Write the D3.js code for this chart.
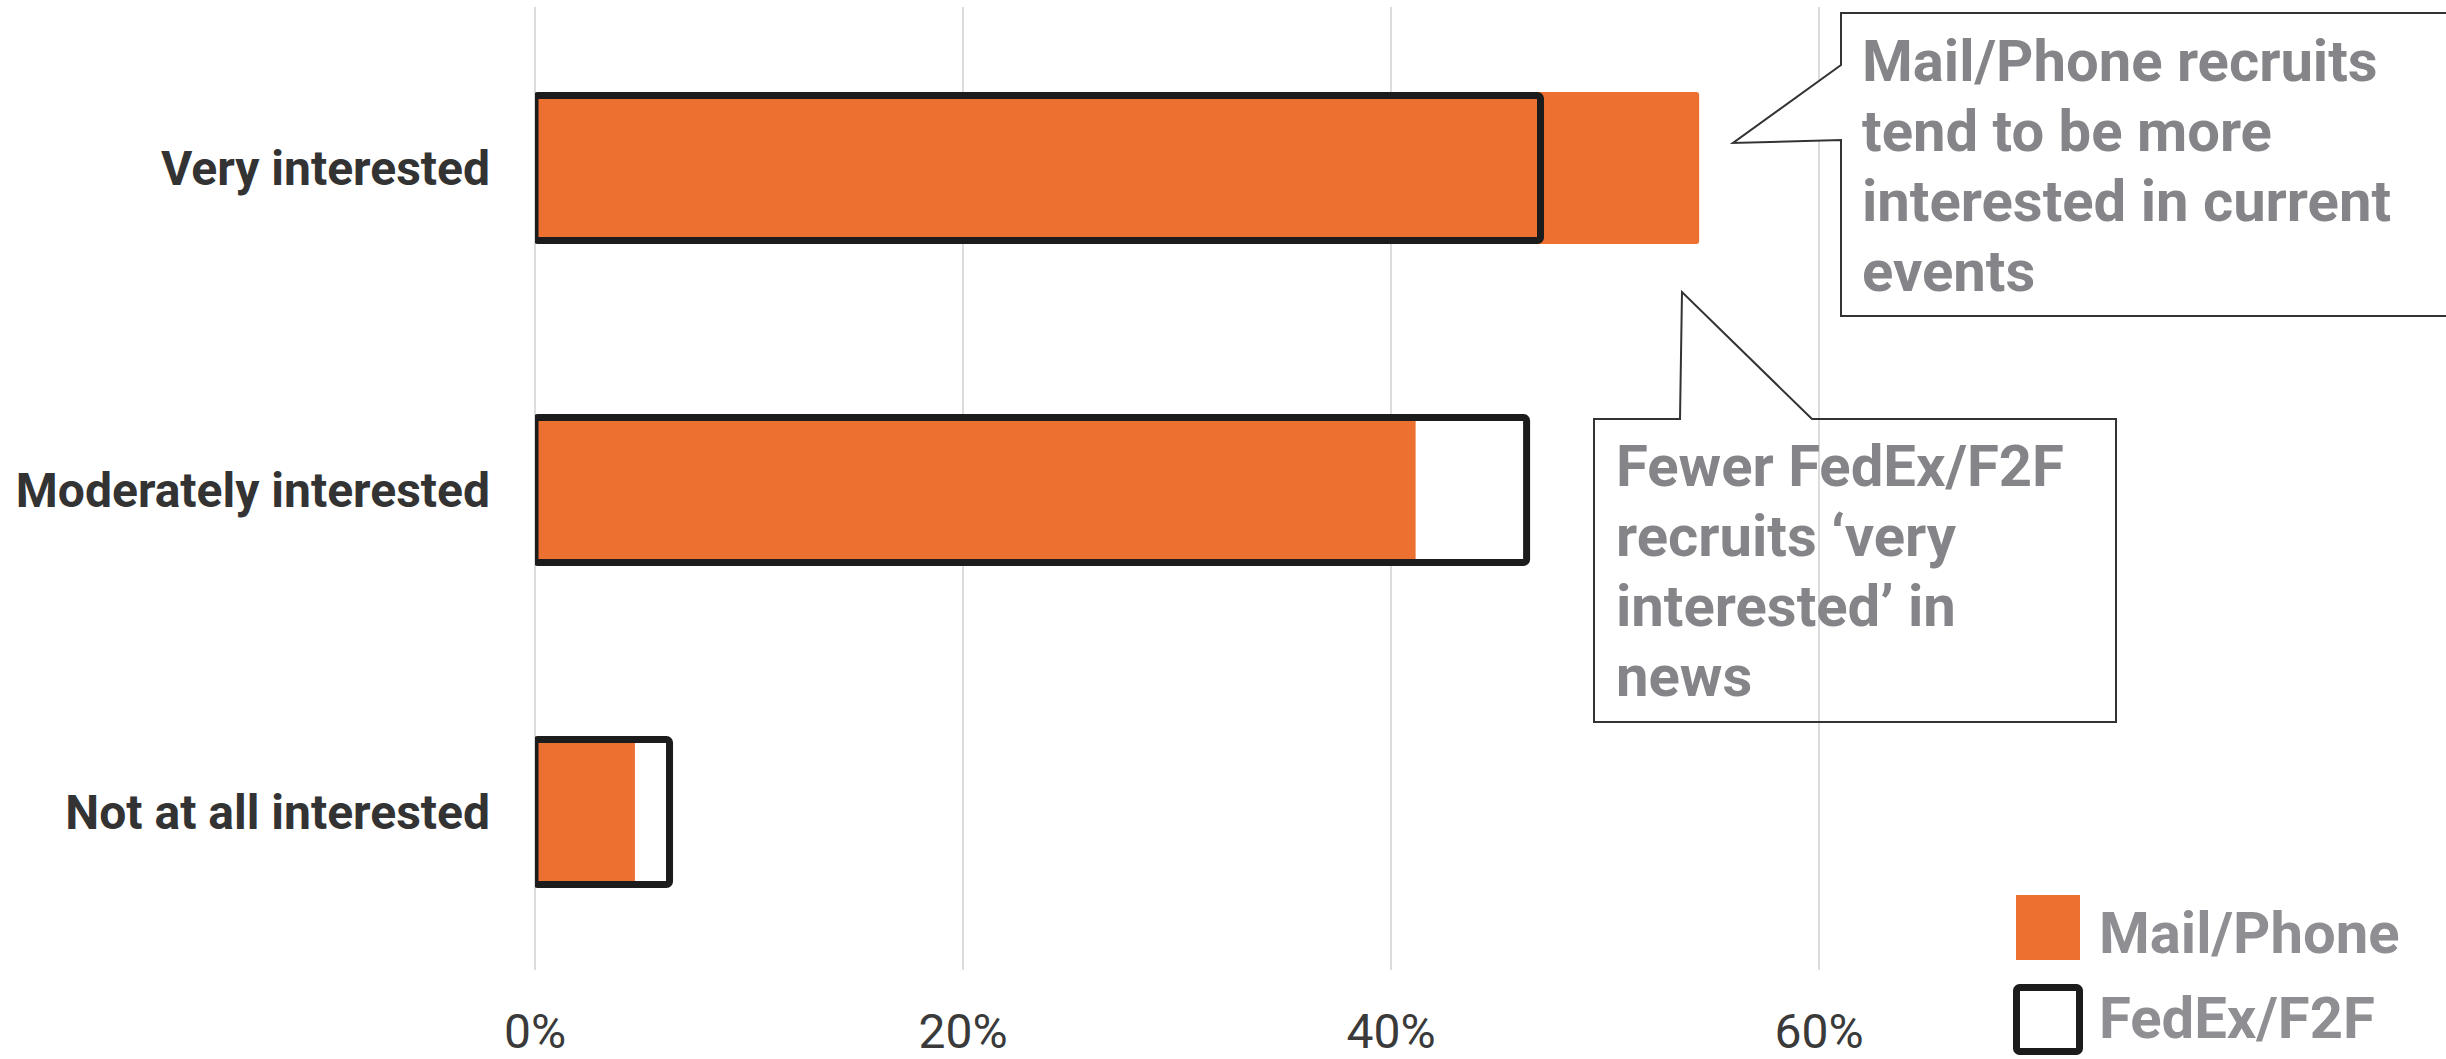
<!DOCTYPE html>
<html>
<head>
<meta charset="utf-8">
<script src="https://cdn.jsdelivr.net/npm/d3@7"></script>
<style>
  html, body { margin: 0; padding: 0; background: #fff; }
  svg { display: block; font-family: Roboto, "Noto Sans", sans-serif; }
</style>
</head>
<body>
<svg id="chart" width="2446" height="1059"></svg>
<script>
// ---- data ----
const categories = ["Very interested", "Moderately interested", "Not at all interested"];
const mailPhone = [54.4, 41.15, 4.67];
const fedexF2F = [47.15, 46.5, 6.45];
const tickValues = [0, 20, 40, 60];
const tickLabels = ["0%", "20%", "40%", "60%"];
const seriesNames = ["Mail/Phone", "FedEx/F2F"];
const note1 = ["Mail/Phone recruits", "tend to be more", "interested in current", "events"];
const note2 = ["Fewer FedEx/F2F", "recruits \u2018very", "interested\u2019 in", "news"];

// ---- layout ----
const W = 2446, H = 1059;
const ORANGE = "#ec702f";
const svg = d3.select("#chart");

const x = d3.scaleLinear().domain([0, 60]).range([535, 1819]);
const y = d3.scalePoint().domain(categories).range([7, 973]).padding(0.5);
const barH = 152;
const sw = 7;

// gridlines
svg.append("g").selectAll("line").data(tickValues).join("line")
  .attr("x1", d => x(d)).attr("x2", d => x(d))
  .attr("y1", 7).attr("y2", 970)
  .attr("stroke", "#dcdcdc").attr("stroke-width", 2);

// tick labels
svg.append("g").selectAll("text").data(tickValues).join("text")
  .attr("x", d => x(d)).attr("y", 1048)
  .attr("text-anchor", "middle")
  .attr("font-size", 48).attr("fill", "#3a3a3a")
  .text((d, i) => tickLabels[i]);

// category labels
svg.append("g").selectAll("text").data(categories).join("text")
  .attr("x", 490).attr("y", d => y(d))
  .attr("dy", "0.35em")
  .attr("text-anchor", "end")
  .attr("font-size", 48).attr("font-weight", "bold").attr("fill", "#333")
  .text(d => d);

// clip for outline bars
svg.append("clipPath").attr("id", "plotClip")
  .append("rect").attr("x", x(0)).attr("y", 0).attr("width", W - x(0)).attr("height", H);

// Mail/Phone bars
svg.append("g").selectAll("rect").data(categories).join("rect")
  .attr("x", x(0)).attr("y", d => y(d) - barH / 2)
  .attr("width", (d, i) => x(mailPhone[i]) - x(0))
  .attr("height", barH)
  .attr("rx", 3)
  .attr("fill", ORANGE);

// FedEx/F2F outline bars
svg.append("g").attr("clip-path", "url(#plotClip)")
  .selectAll("rect").data(categories).join("rect")
  .attr("x", x(0)).attr("y", d => y(d) - barH / 2 + sw / 2)
  .attr("width", (d, i) => x(fedexF2F[i]) - x(0) - sw / 2)
  .attr("height", barH - sw)
  .attr("rx", 3)
  .attr("fill", "none").attr("stroke", "#1c1c1c").attr("stroke-width", sw);

// callout 1
const c1 = [[1841, 13], [2452, 13], [2452, 316], [1841, 316], [1841, 140], [1733, 143], [1841, 65]];
svg.append("path")
  .attr("d", d3.line()(c1) + "Z")
  .attr("fill", "#fff").attr("stroke", "#333").attr("stroke-width", 2);
svg.append("g").selectAll("text").data(note1).join("text")
  .attr("x", 1862).attr("y", (d, i) => 81 + i * 70)
  .attr("font-size", 58).attr("font-weight", "bold").attr("fill", "#858589")
  .text(d => d);

// callout 2
const c2 = [[1594, 419], [1680, 419], [1682, 292], [1812, 419], [2116, 419], [2116, 722], [1594, 722]];
svg.append("path")
  .attr("d", d3.line()(c2) + "Z")
  .attr("fill", "none").attr("stroke", "#333").attr("stroke-width", 2);
svg.append("g").selectAll("text").data(note2).join("text")
  .attr("x", 1616).attr("y", (d, i) => 486 + i * 70)
  .attr("font-size", 58).attr("font-weight", "bold").attr("fill", "#858589")
  .text(d => d);

// legend
const lg = svg.append("g");
lg.append("rect").attr("x", 2016).attr("y", 895).attr("width", 64).attr("height", 65).attr("fill", ORANGE);
lg.append("rect").attr("x", 2013 + sw / 2).attr("y", 984 + sw / 2).attr("width", 70 - sw).attr("height", 71 - sw)
  .attr("rx", 3).attr("fill", "#fff").attr("stroke", "#1c1c1c").attr("stroke-width", sw);
lg.selectAll("text").data(seriesNames).join("text")
  .attr("x", 2099).attr("y", (d, i) => 953 + i * 85)
  .attr("font-size", 58).attr("font-weight", "bold").attr("fill", "#8e8e93")
  .text(d => d);
</script>
</body>
</html>
